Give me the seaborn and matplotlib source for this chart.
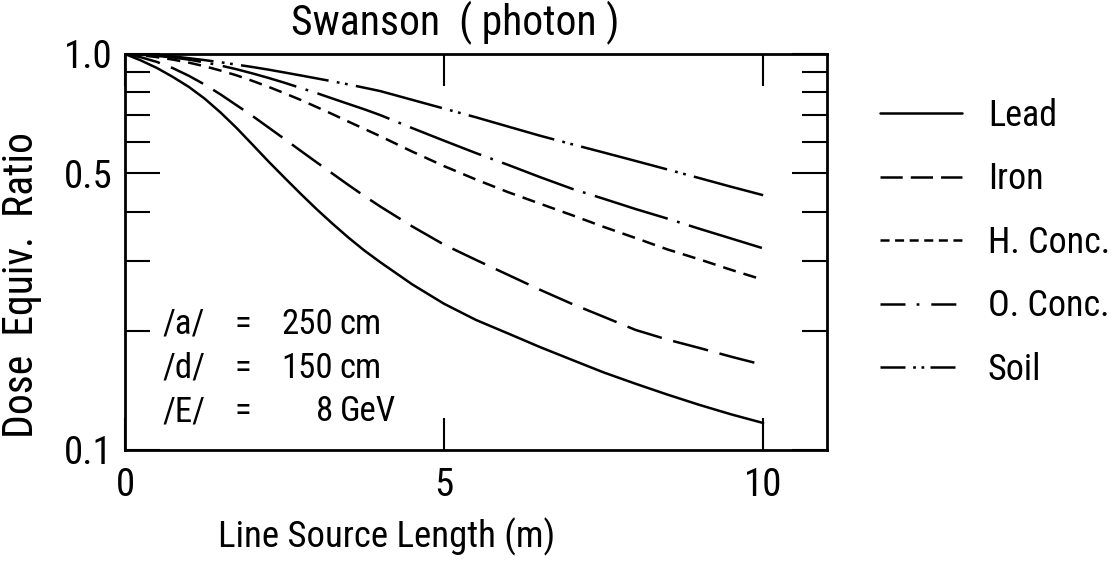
import numpy as np
import pandas as pd
import matplotlib
matplotlib.use("Agg")
import matplotlib.pyplot as plt
import seaborn as sns
from matplotlib import font_manager as fm
from matplotlib.lines import Line2D
from matplotlib.ticker import FixedLocator, FixedFormatter, NullFormatter

# Line source length (m)
length_m = [0.0, 0.25, 0.5, 0.75, 1.0, 1.25, 1.5, 1.75, 2.0, 2.25, 2.5, 2.75,
            3.0, 3.25, 3.5, 3.75, 4.0, 4.5, 5.0, 5.5, 6.0, 6.5, 7.0, 7.5,
            8.0, 8.5, 9.0, 9.5, 10.0]

# Dose equivalent ratio per shielding material
lead = [1.0, 0.963, 0.922, 0.875, 0.826, 0.771, 0.711, 0.650, 0.590, 0.535,
        0.487, 0.444, 0.406, 0.373, 0.344, 0.319, 0.298, 0.262, 0.234, 0.213,
        0.197, 0.182, 0.169, 0.157, 0.147, 0.138, 0.130, 0.123, 0.117]
iron = [1.0, 0.981, 0.955, 0.921, 0.881, 0.837, 0.790, 0.742, 0.697, 0.652,
        0.610, 0.570, 0.533, 0.499, 0.467, 0.438, 0.412, 0.367, 0.330, 0.302,
        0.277, 0.254, 0.234, 0.217, 0.201, 0.190, 0.181, 0.172, 0.164]
h_conc = [1.0, 0.993, 0.982, 0.968, 0.951, 0.931, 0.908, 0.883, 0.855, 0.826,
          0.796, 0.766, 0.735, 0.705, 0.675, 0.647, 0.620, 0.567, 0.521, 0.482,
          0.448, 0.419, 0.392, 0.366, 0.343, 0.321, 0.303, 0.285, 0.269]
o_conc = [1.0, 0.996, 0.989, 0.980, 0.968, 0.952, 0.935, 0.915, 0.893, 0.870,
          0.846, 0.821, 0.797, 0.772, 0.748, 0.725, 0.701, 0.650, 0.604, 0.562,
          0.525, 0.489, 0.457, 0.431, 0.406, 0.384, 0.362, 0.342, 0.323]
soil = [1.0, 0.998, 0.993, 0.986, 0.976, 0.965, 0.953, 0.940, 0.927, 0.913,
        0.898, 0.883, 0.868, 0.853, 0.838, 0.822, 0.806, 0.766, 0.728, 0.692,
        0.656, 0.622, 0.592, 0.564, 0.537, 0.511, 0.486, 0.462, 0.440]

materials = ["Lead", "Iron", "H. Conc.", "O. Conc.", "Soil"]
series = [lead, iron, h_conc, o_conc, soil]

y_major = [0.1, 0.5, 1.0]
y_major_labels = ["0.1", "0.5", "1.0"]
y_minor = [0.2, 0.3, 0.4, 0.6, 0.7, 0.8, 0.9]
x_major = [0, 5, 10]
x_major_labels = ["0", "5", "10"]

params_lines = [("/a/", "250", "cm"), ("/d/", "150", "cm"), ("/E/", "8", "GeV")]


def pick_narrow_font():
    """Return (family, stretch, found) of an installed narrow sans face."""
    prefs = ["Liberation Sans Narrow", "Roboto Condensed", "Noto Sans", "Open Sans",
             "Roboto", "DejaVu Sans"]
    found = []
    for f in fm.fontManager.ttflist:
        st = str(f.stretch).lower()
        narrow = ("narrow" in f.name.lower() or "condensed" in f.name.lower()
                  or st in ("condensed", "semi-condensed", "extra-condensed", "ultra-condensed"))
        if narrow and f.style == "normal" and f.weight in (400, "normal", "regular", "book"):
            found.append(f)

    def rank(f):
        for i, p in enumerate(prefs):
            if f.name.startswith(p):
                return i
        return len(prefs)

    if found:
        found.sort(key=rank)
        return found[0].name, found[0].stretch, True
    return "DejaVu Sans", "normal", False


family, stretch, is_narrow = pick_narrow_font()

sns.set_theme(style="white")
plt.rcParams["font.family"] = [family, "DejaVu Sans"]
plt.rcParams["font.stretch"] = stretch
plt.rcParams["lines.scale_dashes"] = False
for key in ["text.color", "axes.labelcolor", "xtick.color", "ytick.color", "axes.edgecolor"]:
    plt.rcParams[key] = "black"

k = 1.0 if is_narrow else 0.8
fs_tick = 28 * k
fs_xlab = 26.5 * k
fs_ylab = 30 * k
fs_title = 30 * k
fs_key = 26 * k
fs_par = 25 * k

df = pd.DataFrame({
    "length": length_m * len(materials),
    "ratio": [v for s in series for v in s],
    "material": np.repeat(materials, len(length_m)),
})

# dash patterns (points) for the curves
curve_dashes = {
    "Lead": "",
    "Iron": (26, 8.5),
    "H. Conc.": (9.5, 5.8),
    "O. Conc.": (55, 7, 2, 7),
    "Soil": (64, 6, 2, 4, 2, 6),
}
# shorter patterns for the key
key_dashes = {
    "Lead": "-",
    "Iron": (0, (16, 5.8)),
    "H. Conc.": (0, (6.5, 4)),
    "O. Conc.": (0, (18, 8, 2, 8.6)),
    "Soil": (0, (18, 5.5, 2, 4, 2, 4.5)),
}

W, H = 1115, 564
fig = plt.figure(figsize=(W / 100, H / 100), dpi=100)
ax = fig.add_axes([125 / W, 1 - 450 / H, 702 / W, 396 / H])

sns.lineplot(data=df, x="length", y="ratio", style="material", style_order=materials,
             dashes=curve_dashes, color="black", lw=1.8, legend=False,
             estimator=None, sort=False, ax=ax)

ax.set_yscale("log")
ax.set_xlim(0, 11)
ax.set_ylim(0.1, 1.0)

ax.yaxis.set_major_locator(FixedLocator(y_major))
ax.yaxis.set_major_formatter(FixedFormatter(y_major_labels))
ax.yaxis.set_minor_locator(FixedLocator(y_minor))
ax.yaxis.set_minor_formatter(NullFormatter())
ax.xaxis.set_major_locator(FixedLocator(x_major))
ax.xaxis.set_major_formatter(FixedFormatter(x_major_labels))

ax.tick_params(axis="y", which="both", direction="in", left=True, right=True, width=1.5)
ax.tick_params(axis="y", which="major", length=25, pad=9, labelsize=fs_tick)
ax.tick_params(axis="y", which="minor", length=18)
ax.tick_params(axis="x", which="major", direction="in", top=True, bottom=True,
               length=23, width=1.5, pad=12, labelsize=fs_tick)
ax.tick_params(axis="x", which="minor", bottom=False, top=False)

for sp in ax.spines.values():
    sp.set_visible(True)
    sp.set_linewidth(2)
    sp.set_color("black")

ax.set_xlabel("Line Source Length (m)", fontsize=fs_xlab)
ax.xaxis.set_label_coords(0.373, -0.172)
ax.set_ylabel("Dose  Equiv.  Ratio", fontsize=fs_ylab)
ax.yaxis.set_label_coords(-0.118, 0.417)
ax.set_title("Swanson  ( photon )", fontsize=fs_title, x=0.47, y=1.048, pad=0)

# parameter block inside the axes
base_y = [0.293, 0.182, 0.073]
for (sym, num, unit), yb in zip(params_lines, base_y):
    ax.text(0.054, yb, sym, transform=ax.transAxes, fontsize=fs_par, ha="left", va="baseline")
    ax.text(0.168, yb, "=", transform=ax.transAxes, fontsize=fs_par, ha="center", va="baseline")
    ax.text(0.296, yb, num, transform=ax.transAxes, fontsize=fs_par, ha="right", va="baseline")
    ax.text(0.306, yb, unit, transform=ax.transAxes, fontsize=fs_par, ha="left", va="baseline")

handles = [Line2D([], [], color="black", lw=1.8, linestyle=key_dashes[m]) for m in materials]
px_per_em = fs_key * 100 / 72
fig.legend(handles, materials, loc="upper left", bbox_to_anchor=(880 / W, 1 - 98 / H),
           bbox_transform=fig.transFigure, frameon=False, fontsize=fs_key,
           handlelength=82 / px_per_em, handletextpad=26 / px_per_em,
           labelspacing=0.76 if is_narrow else 1.05,
           borderpad=0, borderaxespad=0)

fig.savefig("out.png", dpi=100)
